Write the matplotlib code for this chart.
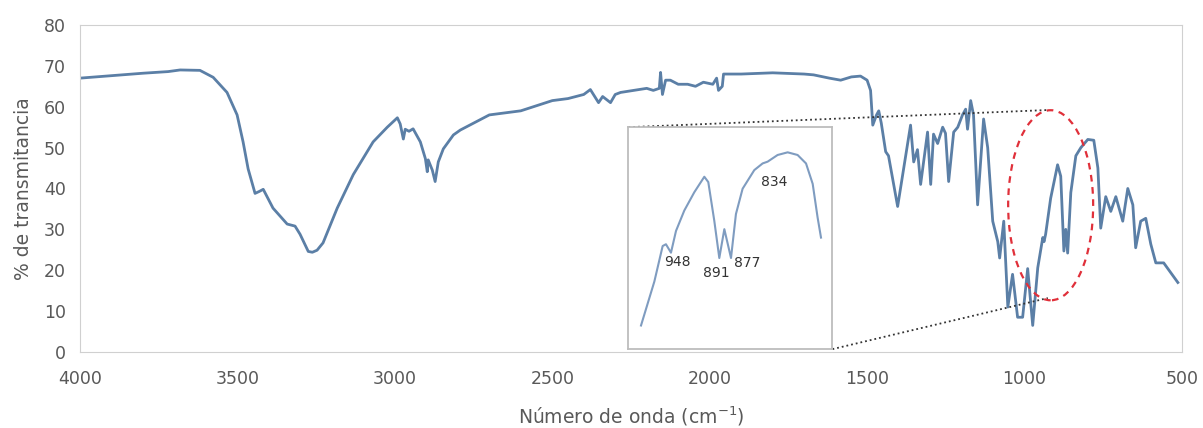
import numpy as np
import matplotlib.pyplot as plt
from matplotlib.patches import Ellipse

# espectro IR (numero de onda, % transmitancia)
wn = [4000, 3900, 3800, 3720, 3682, 3619, 3577, 3533, 3501, 3482, 3466, 3444,
      3430, 3418, 3387, 3364, 3342, 3317, 3301, 3275, 3262, 3247, 3228, 3183,
      3132, 3069, 3024, 2992, 2983, 2973, 2967, 2955, 2942, 2919, 2903, 2897,
      2894, 2881, 2872, 2862, 2846, 2814, 2792, 2700, 2600, 2500, 2450, 2400,
      2379, 2353, 2340, 2315, 2300, 2283, 2200, 2179, 2160, 2156, 2150, 2140,
      2125, 2100, 2070, 2045, 2020, 1990, 1978, 1972, 1960, 1956, 1900, 1800,
      1700, 1670, 1620, 1584, 1550, 1521, 1500, 1489, 1482, 1470, 1463, 1455,
      1451, 1441, 1432, 1403, 1362, 1352, 1340, 1330, 1308, 1298, 1289, 1276,
      1260, 1251, 1241, 1225, 1212, 1197, 1187, 1181, 1171, 1162, 1149, 1130,
      1117, 1101, 1085, 1079, 1066, 1053, 1038, 1022, 1006, 990, 974, 958,
      942, 938, 933, 917, 895, 885, 875, 869, 863, 853, 837, 821, 799, 780,
      767, 758, 742, 726, 710, 688, 672, 656, 647, 631, 615, 599, 583, 558,
      545, 513]
trans = [67.0, 67.6, 68.2, 68.6, 69.0, 68.9, 67.2, 63.5, 58.0, 51.4, 44.8, 38.8,
         39.3, 39.8, 35.2, 33.2, 31.3, 30.8, 28.8, 24.6, 24.4, 24.9, 26.7, 35.2,
         43.4, 51.4, 55.0, 57.3, 55.8, 52.1, 54.5, 54.0, 54.6, 51.4, 47.3, 44.1,
         47.0, 44.5, 41.7, 46.5, 49.7, 53.1, 54.3, 58.0, 59.0, 61.5, 62.0, 63.0,
         64.2, 61.0, 62.5, 61.0, 63.0, 63.5, 64.5, 64.0, 64.5, 68.4, 63.0, 66.5,
         66.5, 65.5, 65.5, 65.0, 66.0, 65.5, 67.0, 64.0, 65.0, 68.0, 68.0, 68.3,
         68.0, 67.8, 67.0, 66.5, 67.3, 67.5, 66.5, 64.0, 55.5, 58.0, 59.0, 56.0,
         54.0, 49.0, 48.0, 35.6, 55.5, 46.5, 49.5, 41.0, 53.8, 41.0, 53.3, 51.0,
         55.0, 53.5, 41.7, 53.8, 55.0, 58.0, 59.4, 54.5, 61.5, 58.0, 36.0, 57.0,
         50.0, 32.0, 27.0, 23.0, 32.0, 11.0, 19.0, 8.5, 8.5, 20.4, 6.5, 20.6,
         28.0, 27.0, 28.8, 37.6, 45.8, 43.0, 24.7, 30.0, 24.2, 39.0, 48.0, 50.0,
         52.0, 51.8, 45.0, 30.3, 38.0, 34.4, 38.0, 32.0, 40.0, 36.0, 25.5, 32.0,
         32.7, 26.4, 21.8, 21.8, 20.4, 17.0]

# ampliacion (region 1000-800)
wn_zoom = [972.0, 958.2, 949.6, 946.2, 941.0, 935.8, 927.2, 916.9, 906.5, 902.4,
           896.2, 891.0, 885.8, 878.9, 873.8, 866.9, 854.8, 846.2, 841.0, 830.7,
           820.3, 810.0, 801.3, 794.4, 789.3, 785.8]
trans_zoom = [10.3, 20.2, 28.2, 28.6, 26.7, 31.6, 36.2, 40.3, 43.8, 42.6,
              33.9, 25.5, 32.0, 25.5, 35.4, 41.1, 45.3, 46.8, 47.2, 48.7,
              49.3, 48.7, 46.8, 42.2, 34.6, 30.1]
peak_labels = ['948', '891', '877', '834']
peak_x = [934.0, 894.4, 861.7, 834.1]
peak_y = [24.5, 22.1, 24.4, 42.6]

col = '#5b7fa6'
gray = '#595959'

fig = plt.figure(figsize=(12.03, 4.28), dpi=100)
ax = fig.add_axes([0.0665, 0.1776, 0.916, 0.764])
ax.plot(wn, trans, color=col, lw=2.0)
ax.set_xlim(4000, 500)
ax.set_ylim(0, 80)
ax.set_xticks(np.arange(4000, 499, -500))
ax.set_yticks(np.arange(0, 81, 10))
ax.tick_params(axis='x', length=0, labelsize=12.5, labelcolor=gray, pad=13)
ax.tick_params(axis='y', length=0, labelsize=12.5, labelcolor=gray, pad=10)
for s in ax.spines.values():
    s.set_color('#d0d0d0')
ax.set_xlabel(r'Número de onda (cm$^{-1}$)', fontsize=13.5, color=gray, labelpad=12)
ax.set_ylabel('% de transmitancia', fontsize=13.5, color=gray, labelpad=8)

# elipse y lineas de la ampliacion
ax.add_patch(Ellipse((917, 35.9), 270, 46.5, fill=False, ec='#e0303a',
                     ls=(0, (3, 2.5)), lw=1.6, zorder=4))
ax.plot([2258, 926], [55.0, 59.2], color='#333333', ls=':', lw=1.3)
ax.plot([1610, 926], [0.7, 13.2], color='#333333', ls=':', lw=1.3)

ins = ax.inset_axes([0.4977, 0.009, 0.1851, 0.679])
ins.plot(wn_zoom, trans_zoom, color='#7f9cc0', lw=1.5)
ins.set_xlim(985, 774)
ins.set_ylim(5, 55)
ins.set_xticks([])
ins.set_yticks([])
for s in ins.spines.values():
    s.set_color('#bdbdbd')
    s.set_linewidth(1.3)
for lab, px, py in zip(peak_labels, peak_x, peak_y):
    ins.text(px, py, lab, fontsize=10, color='#333333', ha='center', va='center')

fig.savefig('out.png', dpi=100)
